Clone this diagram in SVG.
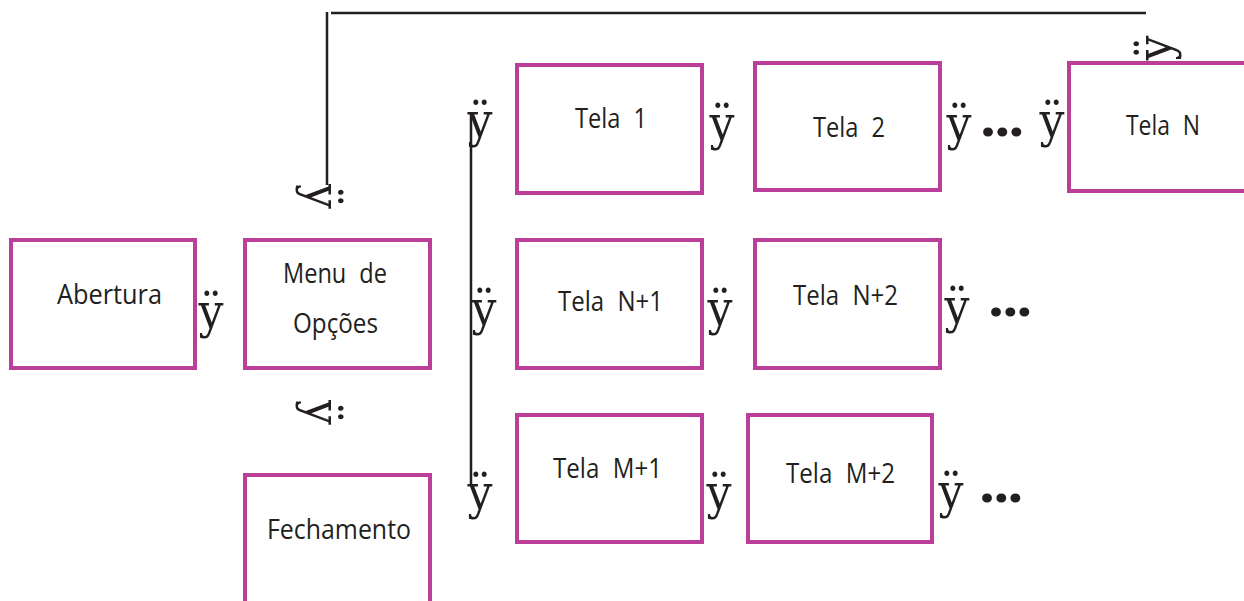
<svg xmlns="http://www.w3.org/2000/svg" width="1244" height="601" viewBox="0 0 1244 601">
<style>
.box{fill:#fff;stroke:#bb3e98;stroke-width:4}
.lbl{font-family:"Open Sans","Liberation Sans",Arial,sans-serif;font-size:27px;fill:#231f20;word-spacing:8px}
.g{font-family:"DejaVu Serif Condensed","DejaVu Serif",serif;font-size:49px;fill:#231f20;text-anchor:middle}
.dots{font-family:Roboto,"DejaVu Sans",sans-serif;font-weight:bold;font-size:62px;fill:#231f20;text-anchor:middle}
.ln{fill:none;stroke:#231f20;stroke-width:2.5}
</style>
<rect width="1244" height="601" fill="#fff"/>
<g id="connectors">
<path class="ln" d="M327 12V185"/>
<path class="ln" d="M331 13H1146"/>
<path class="ln" d="M471 113V485"/>
<text class="g" x="211" y="328">ÿ</text>
<text class="g" x="722" y="140">ÿ</text>
<text class="g" x="959" y="140">ÿ</text>
<text class="g" x="1052" y="137">ÿ</text>
<text class="g" x="480" y="137">ÿ</text>
<text class="g" x="484" y="325">ÿ</text>
<text class="g" x="480" y="509">ÿ</text>
<text class="g" x="720" y="325">ÿ</text>
<text class="g" x="957" y="323">ÿ</text>
<text class="g" x="719" y="509">ÿ</text>
<text class="g" x="951" y="508">ÿ</text>
<text class="g" transform="translate(319 196.5) rotate(90)" x="0" y="13.5">ÿ</text>
<text class="g" transform="translate(319 412.5) rotate(90)" x="0" y="13.5">ÿ</text>
<text class="g" transform="translate(1157.5 48) rotate(-90)" x="0" y="13.5">ÿ</text>
<text class="dots" x="1002" y="136">…</text>
<text class="dots" x="1010" y="316">…</text>
<text class="dots" x="1001" y="502">…</text>
</g>
<g id="abertura"><rect class="box" x="11" y="240" width="184" height="128"/><text class="lbl" x="57" y="304" textLength="105" lengthAdjust="spacingAndGlyphs">Abertura</text></g>
<g id="menu"><rect class="box" x="245" y="240" width="185" height="128"/><text class="lbl" x="283" y="283" textLength="104" lengthAdjust="spacingAndGlyphs">Menu de</text><text class="lbl" x="293" y="333" textLength="85" lengthAdjust="spacingAndGlyphs">Opções</text></g>
<g id="fechamento"><rect class="box" x="245" y="475" width="185" height="140"/><text class="lbl" x="267" y="539" textLength="144" lengthAdjust="spacingAndGlyphs">Fechamento</text></g>
<g id="tela1"><rect class="box" x="517" y="65" width="185" height="128"/><text class="lbl" x="575" y="128" textLength="72" lengthAdjust="spacingAndGlyphs">Tela 1</text></g>
<g id="tela2"><rect class="box" x="755" y="63" width="185" height="127"/><text class="lbl" x="813" y="137" textLength="72" lengthAdjust="spacingAndGlyphs">Tela 2</text></g>
<g id="telaN"><rect class="box" x="1069" y="63" width="200" height="128"/><text class="lbl" x="1126" y="135" textLength="74" lengthAdjust="spacingAndGlyphs">Tela N</text></g>
<g id="telaN1"><rect class="box" x="517" y="240" width="185" height="128"/><text class="lbl" x="558" y="311" textLength="105" lengthAdjust="spacingAndGlyphs">Tela N+1</text></g>
<g id="telaN2"><rect class="box" x="755" y="240" width="185" height="128"/><text class="lbl" x="793" y="305" textLength="105" lengthAdjust="spacingAndGlyphs">Tela N+2</text></g>
<g id="telaM1"><rect class="box" x="517" y="415" width="185" height="127"/><text class="lbl" x="553" y="478" textLength="109" lengthAdjust="spacingAndGlyphs">Tela M+1</text></g>
<g id="telaM2"><rect class="box" x="748" y="415" width="184" height="127"/><text class="lbl" x="786" y="483" textLength="109" lengthAdjust="spacingAndGlyphs">Tela M+2</text></g>
</svg>
